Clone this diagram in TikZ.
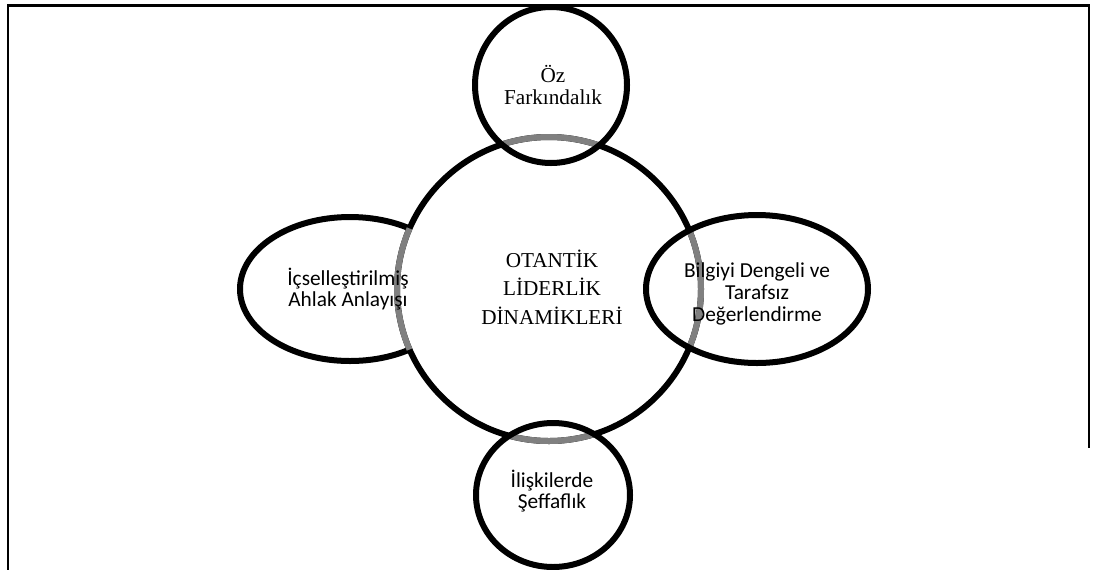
\documentclass[tikz,border=0pt]{standalone}
\usepackage{fontspec}
\setmainfont{Liberation Serif}
\newfontfamily\calib{Carlito}
\begin{document}
\begin{tikzpicture}[x=0.75pt,y=-0.75pt,
  ring/.style={draw=black, line width=4.5pt},
  inner ring/.style={draw=black!50, line width=4.5pt},
  serifline/.style={font=\fontsize{15.9}{16.2}\selectfont, align=center, inner sep=0pt},
  sansline/.style={font=\calib\fontsize{16}{16.2}\selectfont, align=center, inner sep=0pt},
  titleline/.style={font=\fontsize{15.9}{21.4}\selectfont, align=center, inner sep=0pt}]
\useasboundingbox (0,0) rectangle (1096,569);

% outer frame
\draw[line width=1.6pt] (8,580) -- (8,5.5) -- (1089,5.5) -- (1089,448);

% centres of the shapes
\coordinate (cbig) at (549,289);
\coordinate (ctop) at (551,85);
\coordinate (cbot) at (553,495);
\coordinate (cleft) at (350,289);
\coordinate (cright) at (757,289);

% left ellipse lies behind the central circle
\draw[ring] (cleft) ellipse [x radius=110, y radius=72];

% central circle
\filldraw[ring, fill=white] (cbig) circle [radius=152];

% parts of the central circle inside the satellite shapes are grey
\begin{scope}
  \clip (cleft) ellipse [x radius=110, y radius=72];
  \draw[inner ring] (cbig) circle [radius=152];
\end{scope}
\begin{scope}
  \clip (ctop) ellipse [x radius=76, y radius=78];
  \draw[inner ring] (cbig) circle [radius=152];
\end{scope}
\begin{scope}
  \clip (cbot) ellipse [x radius=77, y radius=72];
  \draw[inner ring] (cbig) circle [radius=152];
\end{scope}
\begin{scope}
  \clip (cright) ellipse [x radius=111, y radius=74];
  \draw[inner ring] (cbig) circle [radius=152];
\end{scope}

% satellite outlines on top
\draw[ring] (ctop) ellipse [x radius=76, y radius=78];
\draw[ring] (cbot) ellipse [x radius=77, y radius=72];
\draw[ring] (cright) ellipse [x radius=111, y radius=74];

% labels
\node[titleline] (tcenter) at (552,287) {OTANTİK\\LİDERLİK\\DİNAMİKLERİ};
\node[serifline] (ttop) at (553,85) {Öz\\Farkındalık};
\node[sansline] (tleft) at (348,289) {İçselleştirilmiş\\Ahlak Anlayışı};
\node[sansline] (tright) at (757,294) {Bilgiyi Dengeli ve\\Tarafsız\\Değerlendirme};
\node[sansline] (tbot) at (552,491) {İlişkilerde\\Şeffaflık};
\end{tikzpicture}
\end{document}
